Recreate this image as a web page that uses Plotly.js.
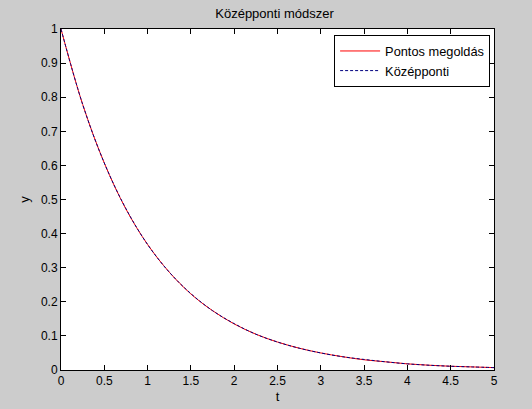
<!DOCTYPE html>
<html>
<head>
<meta charset="utf-8">
<script src="https://cdn.plot.ly/plotly-3.0.1.min.js"></script>
<style>
  html, body { margin: 0; padding: 0; background: #cccccc; }
  #chart { width: 532px; height: 409px; }
</style>
</head>
<body>
<div id="chart"></div>
<script>
// values
const tValues = [0, 0.25, 0.5, 0.75, 1, 1.25, 1.5, 1.75, 2, 2.25, 2.5,
                 2.75, 3, 3.25, 3.5, 3.75, 4, 4.25, 4.5, 4.75, 5];
const exactY = [1, 0.779, 0.607, 0.472, 0.368, 0.287, 0.223, 0.174, 0.135, 0.105, 0.082,
                0.064, 0.050, 0.039, 0.030, 0.024, 0.018, 0.014, 0.011, 0.009, 0.007];
const midpointY = [1, 0.779, 0.607, 0.473, 0.368, 0.287, 0.224, 0.174, 0.136, 0.105, 0.082,
                   0.064, 0.050, 0.039, 0.031, 0.024, 0.018, 0.014, 0.011, 0.009, 0.007];

const xTicks = [0, 0.5, 1, 1.5, 2, 2.5, 3, 3.5, 4, 4.5, 5];
const yTicks = [0, 0.1, 0.2, 0.3, 0.4, 0.5, 0.6, 0.7, 0.8, 0.9, 1];

const FONT = 'Liberation Sans, Arial, sans-serif';

const traces = [
    {
        type: 'scatter', mode: 'lines',
        x: tValues, y: exactY,
        name: 'Pontos megoldás',
        line: { color: '#ff0000', width: 1, shape: 'spline' }
    },
    {
        type: 'scatter', mode: 'lines',
        x: tValues, y: midpointY,
        name: 'Középponti',
        line: { color: '#00007f', width: 1, dash: '3px,2px', shape: 'spline' }
    }
];

const axisCommon = {
    showgrid: false, zeroline: false,
    showline: true, linecolor: '#000000', linewidth: 1, mirror: 'ticks',
    ticks: 'inside', ticklen: 5, tickcolor: '#000000', tickwidth: 1,
    tickfont: { family: FONT, size: 12, color: '#000000' }
};

const layout = {
    width: 532, height: 409,
    margin: { l: 61, r: 38, t: 29, b: 39 },
    paper_bgcolor: '#cccccc',
    plot_bgcolor: '#ffffff',
    font: { family: FONT, color: '#000000', size: 12 },
    title: {
        text: 'Középponti módszer',
        font: { family: FONT, size: 13, color: '#000000' },
        x: 0.516, xanchor: 'center', y: 0.968, yanchor: 'middle'
    },
    xaxis: Object.assign({}, axisCommon, {
        range: [0, 5], tickvals: xTicks,
        ticktext: xTicks.map(String),
        title: { text: 't', font: { family: FONT, size: 13 }, standoff: 4 }
    }),
    yaxis: Object.assign({}, axisCommon, {
        range: [0, 1], tickvals: yTicks,
        ticktext: yTicks.map(String),
        title: { text: 'y', font: { family: FONT, size: 13 }, standoff: 8 }
    }),
    showlegend: true,
    legend: {
        x: 0.991, xanchor: 'right', y: 0.982, yanchor: 'top',
        bgcolor: '#ffffff', bordercolor: '#000000', borderwidth: 1,
        font: { family: FONT, size: 12.8, color: '#000000' },
        itemwidth: 40, tracegroupgap: 0
    }
};

Plotly.newPlot('chart', traces, layout, { displayModeBar: false, staticPlot: true });
</script>
</body>
</html>
